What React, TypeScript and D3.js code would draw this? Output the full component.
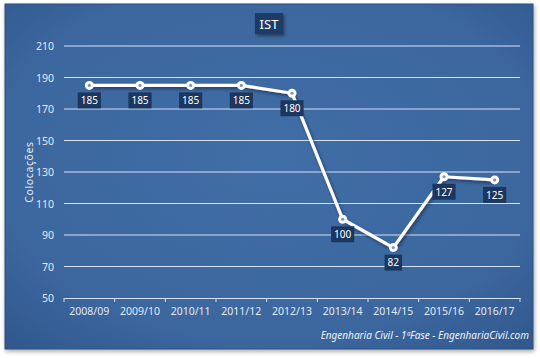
import React, { useEffect, useRef } from 'react';
import * as d3 from 'd3';

const seasons = ['2008/09', '2009/10', '2010/11', '2011/12', '2012/13', '2013/14', '2014/15', '2015/16', '2016/17'];
const placings = [185, 185, 185, 185, 180, 100, 82, 127, 125];
const yTicks = [50, 70, 90, 110, 130, 150, 170, 190, 210];

const W = 540;
const H = 358;

const App = () => {
    const svgRef = useRef<SVGSVGElement>(null);

    useEffect(() => {
        const svg = d3.select(svgRef.current);
        svg.selectAll('*').remove();

        const font = "'Noto Sans', 'Open Sans', sans-serif";
        const left = 64, right = 520, top = 46, bottom = 298;
        const axisCol = '#d6e2f2';
        const textCol = '#e2e9f4';

        const x = d3.scaleBand().domain(seasons).range([left, right]);
        const y = d3.scaleLinear().domain([50, 210]).range([bottom, top]);

        const defs = svg.append('defs');
        const grad = defs.append('radialGradient').attr('id', 'bg').attr('cx', '50%').attr('cy', '45%').attr('r', '75%');
        grad.append('stop').attr('offset', '0%').attr('stop-color', '#416ea6');
        grad.append('stop').attr('offset', '70%').attr('stop-color', '#3b669e');
        grad.append('stop').attr('offset', '100%').attr('stop-color', '#30578c');

        const sh = defs.append('filter').attr('id', 'shadow').attr('x', '-20%').attr('y', '-20%').attr('width', '140%').attr('height', '140%');
        sh.append('feDropShadow').attr('dx', 1.5).attr('dy', 2).attr('stdDeviation', 1.5).attr('flood-color', '#0a1a33').attr('flood-opacity', 0.6);

        const psh = defs.append('filter').attr('id', 'pshadow').attr('x', '-5%').attr('y', '-5%').attr('width', '110%').attr('height', '110%');
        psh.append('feDropShadow').attr('dx', 1).attr('dy', 2).attr('stdDeviation', 2).attr('flood-color', '#000').attr('flood-opacity', 0.35);

        svg.append('rect').attr('width', W).attr('height', H).attr('fill', '#ffffff');

        // panel
        svg.append('rect')
            .attr('x', 5).attr('y', 4).attr('width', 528).attr('height', 345)
            .attr('fill', 'url(#bg)')
            .attr('stroke', '#2a4c7c').attr('stroke-width', 1)
            .attr('filter', 'url(#pshadow)');

        // title
        svg.append('rect')
            .attr('x', 255).attr('y', 13).attr('width', 28).attr('height', 21)
            .attr('fill', '#1f3b66').attr('filter', 'url(#shadow)');
        svg.append('text')
            .attr('x', 269).attr('y', 28.5)
            .attr('text-anchor', 'middle')
            .attr('font-family', font).attr('font-size', 13)
            .attr('fill', '#ffffff')
            .text('IST');

        // grid
        svg.append('g').selectAll('line')
            .data(yTicks.filter(d => d !== 50))
            .join('line')
            .attr('x1', left).attr('x2', right)
            .attr('y1', d => y(d)).attr('y2', d => y(d))
            .attr('stroke', axisCol).attr('stroke-width', 1);

        svg.append('g').selectAll('text')
            .data(yTicks)
            .join('text')
            .attr('x', 54).attr('y', d => y(d) + 4)
            .attr('text-anchor', 'end')
            .attr('font-family', font).attr('font-size', 10.5)
            .attr('fill', textCol)
            .text(d => d);

        svg.append('text')
            .attr('transform', `translate(33,${(top + bottom) / 2}) rotate(-90)`)
            .attr('text-anchor', 'middle')
            .attr('font-family', font).attr('font-size', 10.5)
            .attr('letter-spacing', 0.6)
            .attr('fill', textCol)
            .text('Colocações');

        // x axis
        const xAxis = d3.axisBottom(x).tickSize(0).tickSizeOuter(0).tickFormat(() => '');
        const gx = svg.append('g').attr('transform', `translate(0,${bottom})`).call(xAxis);
        gx.select('.domain').attr('stroke', axisCol);
        gx.selectAll('.tick').remove();
        gx.append('g').selectAll('line')
            .data(d3.range(seasons.length + 1))
            .join('line')
            .attr('x1', i => left + i * x.bandwidth()).attr('x2', i => left + i * x.bandwidth())
            .attr('y1', 0).attr('y2', 4)
            .attr('stroke', axisCol);

        svg.append('g').selectAll('text')
            .data(seasons)
            .join('text')
            .attr('x', d => (x(d) as number) + x.bandwidth() / 2)
            .attr('y', bottom + 17)
            .attr('text-anchor', 'middle')
            .attr('font-family', font).attr('font-size', 10.5)
            .attr('fill', textCol)
            .text(d => d);

        // line
        const cx = (i: number) => (x(seasons[i]) as number) + x.bandwidth() / 2;
        const line = d3.line<number>().x((_, i) => cx(i)).y(d => y(d));
        svg.append('path')
            .datum(placings)
            .attr('d', line)
            .attr('fill', 'none')
            .attr('stroke', '#ffffff')
            .attr('stroke-width', 3.2)
            .attr('stroke-linejoin', 'round')
            .attr('filter', 'url(#shadow)');

        const pts = svg.append('g').selectAll('g')
            .data(placings)
            .join('g')
            .attr('transform', (d, i) => `translate(${cx(i)},${y(d)})`);
        pts.append('circle').attr('r', 4.5).attr('fill', '#ffffff');
        pts.append('circle').attr('r', 1.6).attr('fill', '#7f97b8');

        // data labels
        const labels = svg.append('g').selectAll('g')
            .data(placings)
            .join('g')
            .attr('transform', (d, i) => `translate(${cx(i)},${y(d) + 15})`);
        const rects = labels.append('rect').attr('fill', '#1c375f');
        const texts = labels.append('text')
            .attr('y', 3.8)
            .attr('text-anchor', 'middle')
            .attr('font-family', font).attr('font-size', 10)
            .attr('fill', '#ffffff')
            .text(d => d);
        texts.each(function (_, i) {
            const w = (this as SVGTextElement).getComputedTextLength() + 6;
            d3.select(rects.nodes()[i])
                .attr('x', -w / 2).attr('y', -8).attr('width', w).attr('height', 16);
        });

        // footer
        svg.append('text')
            .attr('x', 529).attr('y', 339)
            .attr('text-anchor', 'end')
            .attr('font-family', font).attr('font-size', 10)
            .attr('font-style', 'italic')
            .attr('fill', '#eef2f8')
            .text('Engenharia Civil - 1ªFase - EngenhariaCivil.com');
    }, []);

    return (
        <svg ref={svgRef} width={W} height={H} style={{ position: 'absolute', left: 0, top: 0, display: 'block' }}></svg>
    );
};

export default App;
